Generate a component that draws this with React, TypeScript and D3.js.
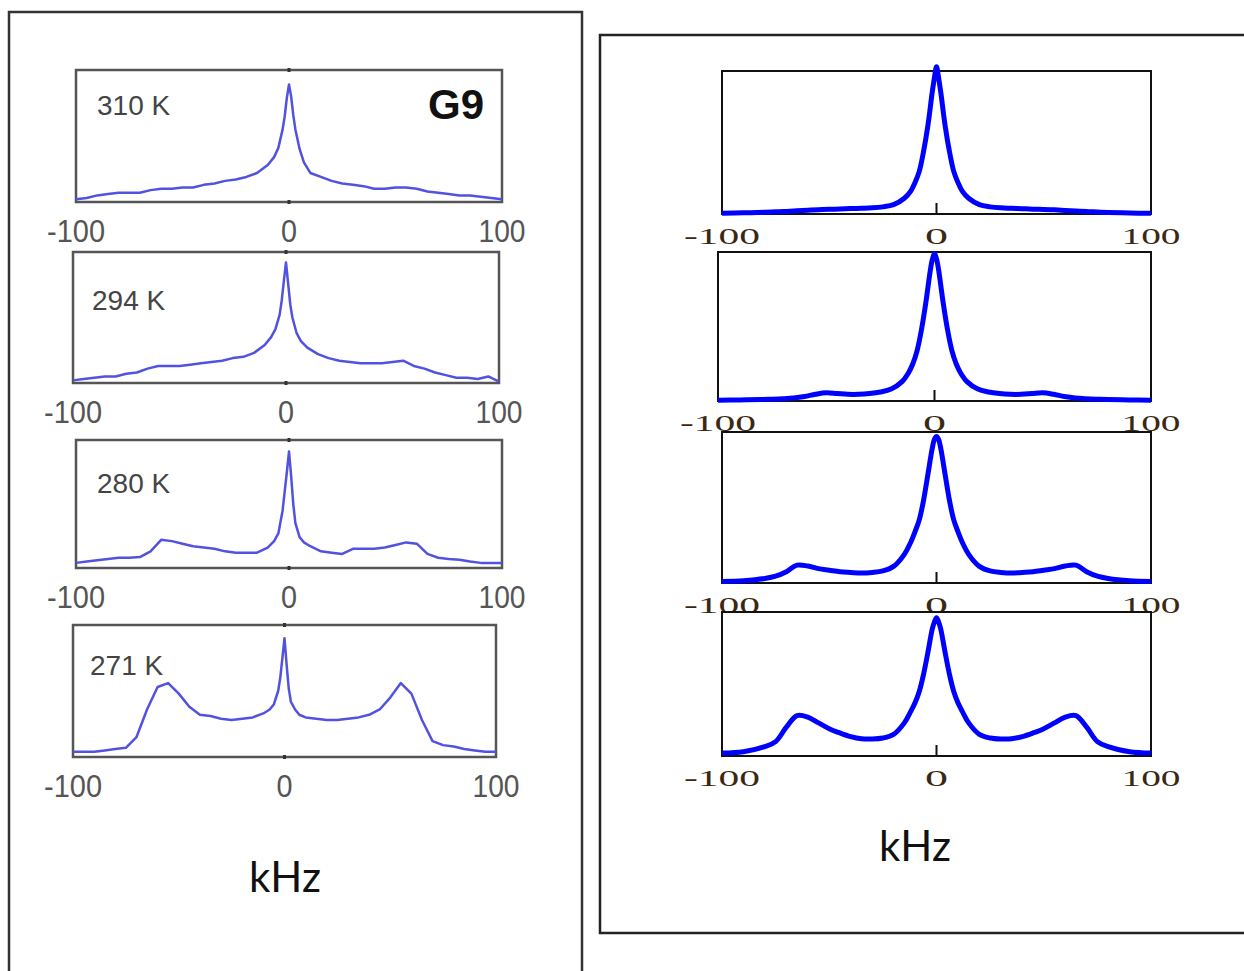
import { useEffect, useRef } from 'react';
import * as d3 from 'd3';

// frequency grids (kHz)
const expFreq = [-100, -95, -90, -85, -80, -75, -70, -65, -60, -55, -50, -45, -40, -35, -30, -25, -20, -15, -10, -7, -5, -3, -2, -1, 0, 1, 2, 3, 5, 7, 10, 15, 20, 25, 30, 35, 40, 45, 50, 55, 60, 65, 70, 75, 80, 85, 90, 95, 100];
const simFreq = [-100, -90, -80, -75, -70, -65, -60, -55, -50, -45, -40, -35, -30, -25, -20, -15, -12, -10, -8, -6, -4, -2, -1, 0, 1, 2, 4, 6, 8, 10, 12, 15, 20, 25, 30, 35, 40, 45, 50, 55, 60, 65, 70, 75, 80, 90, 100];

// experimental spectra (relative intensity, left column)
const exp310 = [0.02, 0.03, 0.05, 0.06, 0.07, 0.07, 0.07, 0.09, 0.10, 0.10, 0.11, 0.11, 0.13, 0.14, 0.16, 0.17, 0.19, 0.22, 0.28, 0.34, 0.41, 0.55, 0.65, 0.79, 0.89, 0.80, 0.66, 0.55, 0.40, 0.30, 0.22, 0.19, 0.16, 0.14, 0.13, 0.12, 0.10, 0.10, 0.11, 0.11, 0.10, 0.08, 0.07, 0.06, 0.05, 0.05, 0.04, 0.03, 0.02];
const exp294 = [0.02, 0.03, 0.04, 0.05, 0.05, 0.07, 0.08, 0.11, 0.13, 0.13, 0.13, 0.14, 0.15, 0.16, 0.17, 0.19, 0.20, 0.23, 0.29, 0.35, 0.41, 0.52, 0.63, 0.78, 0.92, 0.76, 0.60, 0.50, 0.38, 0.32, 0.27, 0.22, 0.19, 0.17, 0.16, 0.15, 0.15, 0.15, 0.16, 0.17, 0.13, 0.11, 0.08, 0.06, 0.04, 0.04, 0.03, 0.05, 0.01];
const exp280 = [0.04, 0.05, 0.06, 0.07, 0.08, 0.08, 0.085, 0.13, 0.22, 0.21, 0.19, 0.17, 0.16, 0.15, 0.13, 0.12, 0.12, 0.12, 0.16, 0.21, 0.27, 0.45, 0.60, 0.75, 0.91, 0.72, 0.50, 0.35, 0.24, 0.20, 0.17, 0.13, 0.12, 0.11, 0.15, 0.15, 0.15, 0.16, 0.18, 0.20, 0.19, 0.11, 0.08, 0.07, 0.065, 0.05, 0.04, 0.04, 0.04];
const exp271 = [0.04, 0.04, 0.04, 0.05, 0.06, 0.07, 0.15, 0.36, 0.53, 0.56, 0.48, 0.38, 0.32, 0.31, 0.29, 0.28, 0.29, 0.30, 0.33, 0.36, 0.40, 0.50, 0.60, 0.75, 0.90, 0.70, 0.52, 0.42, 0.36, 0.32, 0.30, 0.29, 0.28, 0.28, 0.29, 0.30, 0.32, 0.36, 0.45, 0.56, 0.48, 0.28, 0.12, 0.09, 0.08, 0.06, 0.05, 0.04, 0.04];

// simulated spectra (relative intensity, right column)
const sim1 = [0.005, 0.008, 0.012, 0.015, 0.018, 0.022, 0.026, 0.03, 0.033, 0.035, 0.038, 0.04, 0.043, 0.05, 0.065, 0.11, 0.16, 0.22, 0.30, 0.44, 0.62, 0.85, 0.95, 1.03, 0.95, 0.85, 0.62, 0.44, 0.30, 0.22, 0.16, 0.11, 0.065, 0.05, 0.043, 0.04, 0.037, 0.034, 0.032, 0.029, 0.025, 0.021, 0.017, 0.014, 0.011, 0.007, 0.005];
const sim2 = [0.005, 0.007, 0.01, 0.012, 0.015, 0.02, 0.03, 0.045, 0.055, 0.05, 0.045, 0.045, 0.05, 0.06, 0.08, 0.13, 0.19, 0.25, 0.34, 0.48, 0.66, 0.87, 0.95, 0.99, 0.95, 0.87, 0.66, 0.48, 0.34, 0.25, 0.19, 0.13, 0.08, 0.06, 0.05, 0.045, 0.045, 0.05, 0.055, 0.045, 0.03, 0.02, 0.015, 0.012, 0.01, 0.007, 0.005];
const sim3 = [0.01, 0.015, 0.03, 0.045, 0.075, 0.118, 0.112, 0.095, 0.085, 0.075, 0.07, 0.066, 0.07, 0.08, 0.11, 0.19, 0.27, 0.34, 0.42, 0.55, 0.72, 0.89, 0.95, 0.97, 0.95, 0.89, 0.72, 0.55, 0.42, 0.34, 0.27, 0.19, 0.11, 0.08, 0.07, 0.066, 0.07, 0.075, 0.085, 0.095, 0.112, 0.118, 0.075, 0.045, 0.03, 0.015, 0.01];
const sim4 = [0.02, 0.03, 0.065, 0.10, 0.20, 0.28, 0.27, 0.23, 0.19, 0.16, 0.135, 0.12, 0.118, 0.125, 0.15, 0.23, 0.31, 0.37, 0.45, 0.57, 0.72, 0.88, 0.93, 0.96, 0.93, 0.88, 0.72, 0.57, 0.45, 0.37, 0.31, 0.23, 0.15, 0.125, 0.118, 0.12, 0.135, 0.16, 0.19, 0.23, 0.27, 0.28, 0.20, 0.10, 0.065, 0.03, 0.02];

const tempLabels = ['310 K', '294 K', '280 K', '271 K'];
const tickValues = [-100, 0, 100];
const tickLabels = ['-100', '0', '100'];

// frame boxes in page pixels
const leftPanels = [
  { x0: 76, x1: 502, y0: 70, y1: 202, lx: 97, ly: 115 },
  { x0: 73, x1: 499, y0: 252, y1: 383, lx: 92, ly: 310 },
  { x0: 76, x1: 502, y0: 440, y1: 568, lx: 97, ly: 493 },
  { x0: 73, x1: 496, y0: 625, y1: 757, lx: 90, ly: 675 },
];
const rightPanels = [
  { x0: 722, x1: 1151, y0: 71, y1: 214 },
  { x0: 718, x1: 1151, y0: 252, y1: 401 },
  { x0: 722, x1: 1151, y0: 432, y1: 583 },
  { x0: 722, x1: 1151, y0: 612, y1: 756 },
];

const expSeries = [exp310, exp294, exp280, exp271];
const simSeries = [sim1, sim2, sim3, sim4];

export default function App() {
  const ref = useRef<SVGSVGElement>(null);

  useEffect(() => {
    if (!ref.current) return;
    const svg = d3.select(ref.current);
    svg.selectAll('*').remove();

    // outer boxes
    svg.append('rect').attr('x', 9).attr('y', 12).attr('width', 573).attr('height', 1000)
      .attr('fill', 'none').attr('stroke', '#333').attr('stroke-width', 2.5);
    svg.append('rect').attr('x', 600).attr('y', 35).attr('width', 700).attr('height', 898)
      .attr('fill', 'none').attr('stroke', '#222').attr('stroke-width', 2.5);

    // left column: experimental
    leftPanels.forEach((p, i) => {
      const x = d3.scaleLinear().domain([-100, 100]).range([p.x0, p.x1]);
      const y = d3.scaleLinear().domain([0, 1]).range([p.y1, p.y0]);
      const g = svg.append('g');

      g.append('rect').attr('x', p.x0).attr('y', p.y0).attr('width', p.x1 - p.x0).attr('height', p.y1 - p.y0)
        .attr('fill', 'none').attr('stroke', '#555').attr('stroke-width', 2.5);

      g.selectAll('.tk').data([p.y0, p.y1]).enter().append('line')
        .attr('x1', x(0)).attr('x2', x(0))
        .attr('y1', (d) => d - 2).attr('y2', (d) => d + 2)
        .attr('stroke', '#333').attr('stroke-width', 3);

      const line = d3.line<number>()
        .x((_, j) => x(expFreq[j]))
        .y((d) => y(d))
        .curve(d3.curveLinear);
      g.append('path').datum(expSeries[i]).attr('d', line)
        .attr('fill', 'none').attr('stroke', '#5252e0').attr('stroke-width', 2.5)
        .attr('stroke-linejoin', 'round');

      const widths = [58, 16, 47];
      g.selectAll('.lbl').data(tickValues).enter().append('text')
        .attr('x', (d) => x(d)).attr('y', p.y1 + 40)
        .attr('text-anchor', 'middle')
        .attr('textLength', (_, j) => widths[j]).attr('lengthAdjust', 'spacingAndGlyphs')
        .style('font-family', '"Liberation Sans", Arial, sans-serif')
        .style('font-size', '32px').attr('fill', '#555')
        .text((_, j) => tickLabels[j]);

      g.append('text').attr('x', p.lx).attr('y', p.ly)
        .style('font-family', '"Liberation Sans", Arial, sans-serif')
        .style('font-size', '28px').attr('fill', '#444')
        .text(tempLabels[i]);
    });

    svg.append('text').attr('x', 428).attr('y', 119)
      .style('font-family', '"Liberation Sans", Arial, sans-serif')
      .style('font-size', '42px').style('font-weight', 'bold').attr('fill', '#111')
      .text('G9');

    svg.append('text').attr('x', 285).attr('y', 892).attr('text-anchor', 'middle')
      .style('font-family', 'Lato, "Open Sans", sans-serif')
      .style('font-size', '42px').attr('fill', '#111').text('kHz');

    // right column: simulated
    rightPanels.forEach((p, i) => {
      const x = d3.scaleLinear().domain([-100, 100]).range([p.x0, p.x1]);
      const y = d3.scaleLinear().domain([0, 1]).range([p.y1, p.y0]);
      const g = svg.append('g');

      g.append('rect').attr('x', p.x0).attr('y', p.y0).attr('width', p.x1 - p.x0).attr('height', p.y1 - p.y0)
        .attr('fill', 'none').attr('stroke', '#111').attr('stroke-width', 2);

      g.append('line').attr('x1', x(0)).attr('x2', x(0)).attr('y1', p.y1).attr('y2', p.y1 - 11)
        .attr('stroke', '#111').attr('stroke-width', 2);

      const line = d3.line<number>()
        .x((_, j) => x(simFreq[j]))
        .y((d) => y(d))
        .curve(d3.curveCatmullRom.alpha(0.5));
      g.append('path').datum(simSeries[i]).attr('d', line)
        .attr('fill', 'none').attr('stroke', '#0000ff').attr('stroke-width', 5)
        .attr('stroke-linejoin', 'round');

      const widths = [76, 23, 59];
      g.selectAll('.lbl').data(tickValues).enter().append('text')
        .attr('x', (d) => x(d)).attr('y', p.y1 + 30)
        .attr('text-anchor', 'middle')
        .attr('textLength', (_, j) => widths[j]).attr('lengthAdjust', 'spacingAndGlyphs')
        .style('font-family', '"Liberation Serif", "Times New Roman", serif')
        .style('font-size', '24px').attr('fill', '#3a2812')
        .text((_, j) => tickLabels[j]);
    });

    svg.append('text').attr('x', 915).attr('y', 861).attr('text-anchor', 'middle')
      .style('font-family', 'Lato, "Open Sans", sans-serif')
      .style('font-size', '42px').attr('fill', '#111').text('kHz');
  }, []);

  return (
    <svg ref={ref} width={1244} height={971}
      style={{ position: 'absolute', left: 0, top: 0, background: '#fff', display: 'block' }} />
  );
}
